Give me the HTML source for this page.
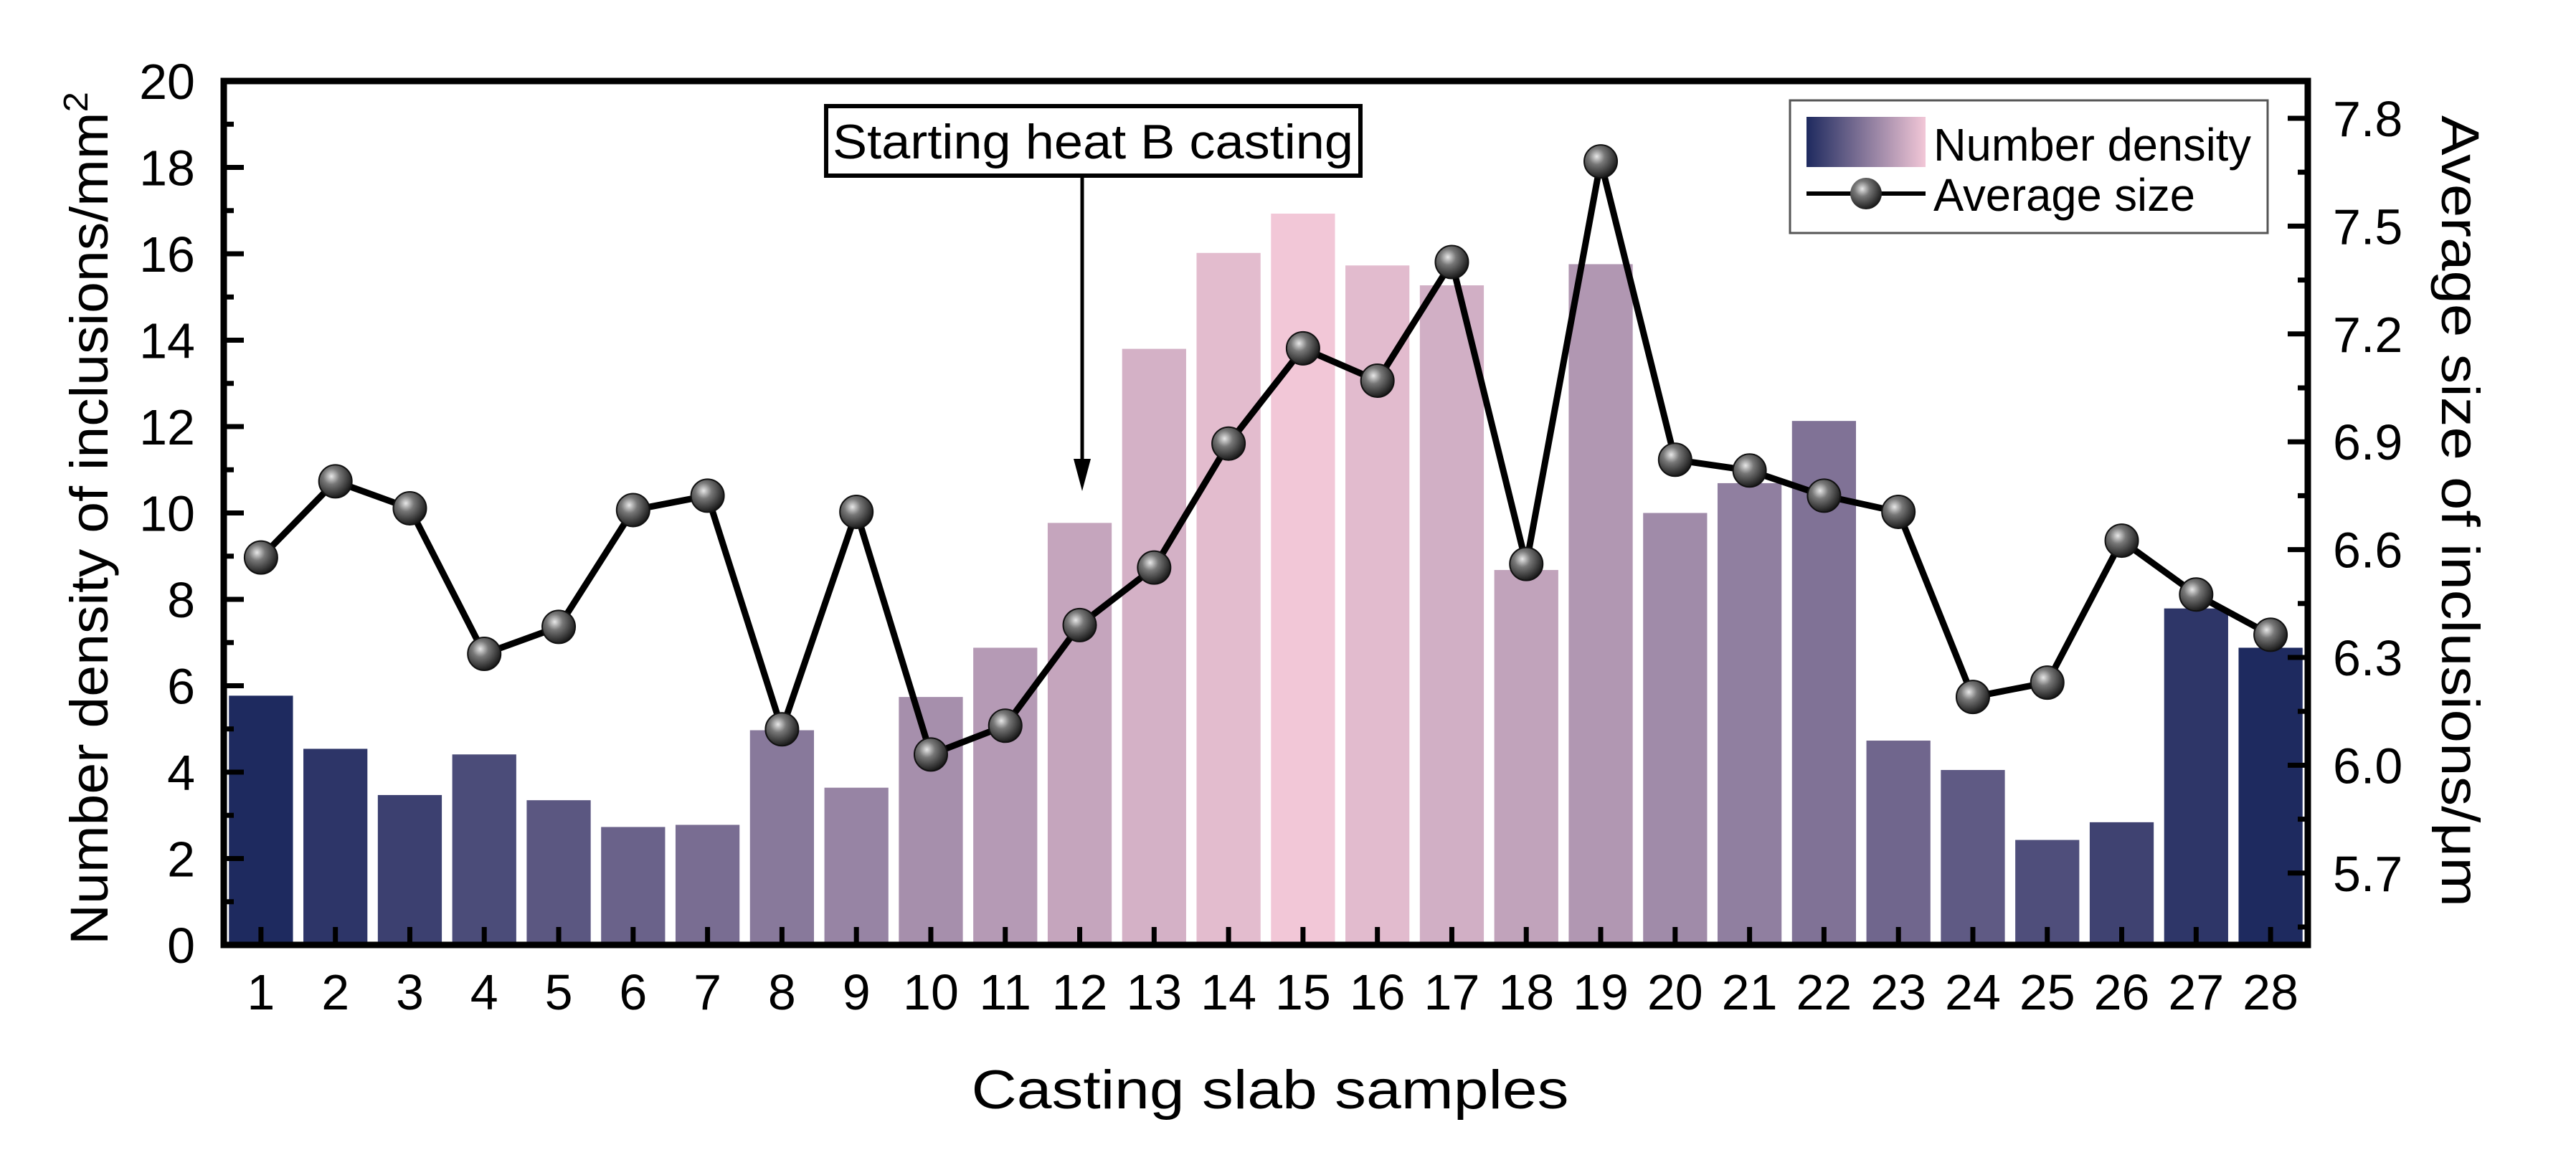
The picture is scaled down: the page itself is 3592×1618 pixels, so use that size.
<!DOCTYPE html>
<html><head><meta charset="utf-8"><style>
html,body{margin:0;padding:0;background:#fff}
svg{display:block}
text{font-family:"Liberation Sans",Arial,sans-serif;fill:#000}
</style></head><body>
<svg id="chart" width="3592" height="1618" viewBox="0 0 3592 1618" xmlns="http://www.w3.org/2000/svg">
<defs>
<radialGradient id="ball" cx="0.38" cy="0.35" r="0.7">
<stop offset="0" stop-color="#e8e8e8"/><stop offset="0.35" stop-color="#777"/><stop offset="1" stop-color="#111"/>
</radialGradient>
<linearGradient id="legGrad" x1="0" x2="1" y1="0" y2="0">
<stop offset="0" stop-color="#1e2a5f"/><stop offset="1" stop-color="#f2c7d7"/>
</linearGradient>
</defs>
<g id="bars"></g>
<g id="line"></g>
<g id="axes"></g>
<g>
<rect x="1152" y="148" width="745" height="97" fill="#fff" stroke="#000" stroke-width="6"/>
<text x="1524" y="221" font-size="68" text-anchor="middle" textLength="726" lengthAdjust="spacingAndGlyphs">Starting heat B casting</text>
<line x1="1509" y1="245" x2="1509" y2="650" stroke="#000" stroke-width="5"/>
<polygon points="1497,640 1521,640 1509,685" fill="#000"/>
</g>
<g>
<rect x="2496" y="140" width="666" height="185" fill="#fff" stroke="#555" stroke-width="3"/>
<rect x="2519" y="163" width="166" height="70" fill="url(#legGrad)"/>
<text x="2696" y="224" font-size="64" textLength="443" lengthAdjust="spacingAndGlyphs">Number density</text>
<line x1="2519" y1="270" x2="2685" y2="270" stroke="#000" stroke-width="6"/>
<circle cx="2602" cy="270" r="22" fill="url(#ball)"/>
<text x="2696" y="294" font-size="64" textLength="365" lengthAdjust="spacingAndGlyphs">Average size</text>
</g>
<text transform="translate(150,723) rotate(-90)" font-size="74" text-anchor="middle" textLength="1190" lengthAdjust="spacingAndGlyphs">Number density of inclusions/mm<tspan dy="-28" font-size="48">2</tspan></text>
<text transform="translate(3405,713) rotate(90)" font-size="74" text-anchor="middle" textLength="1104" lengthAdjust="spacingAndGlyphs">Average size of inclusions/μm</text>
<text x="1771" y="1546" font-size="76" text-anchor="middle" textLength="833" lengthAdjust="spacingAndGlyphs">Casting slab samples</text>
</svg>
<script>
const categories = [1,2,3,4,5,6,7,8,9,10,11,12,13,14,15,16,17,18,19,20,21,22,23,24,25,26,27,28];
const densityValues = [5.77,4.54,3.47,4.41,3.35,2.73,2.78,4.97,3.64,5.74,6.88,9.77,13.8,16.02,16.93,15.73,15.27,8.68,15.76,10.0,10.69,12.13,4.73,4.05,2.43,2.84,7.79,6.88];
const sizeValues = [6.578,6.79,6.715,6.31,6.385,6.71,6.75,6.10,6.705,6.03,6.11,6.39,6.55,6.895,7.16,7.07,7.40,6.56,7.68,6.85,6.82,6.75,6.705,6.19,6.23,6.625,6.475,6.363];
const leftTicks = [0,2,4,6,8,10,12,14,16,18,20];
const rightTicks = [5.7,6.0,6.3,6.6,6.9,7.2,7.5,7.8];

const NS = "http://www.w3.org/2000/svg";
const L = 312, R = 3218, T = 113, B = 1318;
const xScale = c => L + (c - 0.5) / 28 * (R - L);
const yLeft = v => B - v * (B - T) / 20;
const yRight = v => 165 + (7.8 - v) / 0.3 * 150.4;
function mk(tag, attrs, parent) {
  const e = document.createElementNS(NS, tag);
  for (const k in attrs) e.setAttribute(k, attrs[k]);
  parent.appendChild(e);
  return e;
}
function mix(t) {
  const a = [30,42,95], b = [242,199,215];
  return "rgb(" + a.map((v, i) => Math.round(v + (b[i] - v) * t)).join(",") + ")";
}
const barsG = document.getElementById("bars");
const bw = (R - L) / 28 * 0.86;
categories.forEach((c, i) => {
  const t = c <= 15 ? (c - 1) / 14 : (28 - c) / 13;
  const y = yLeft(densityValues[i]);
  const r = mk("rect", {x: xScale(c) - bw / 2, y: y, width: bw, height: B - y, fill: mix(t)}, barsG);
  
  
});
const lineG = document.getElementById("line");
const pts = categories.map((c, i) => xScale(c) + "," + yRight(sizeValues[i])).join(" ");
const pl = mk("polyline", {points: pts, fill: "none", stroke: "#000", "stroke-width": 9, "stroke-linejoin": "round"}, lineG);


categories.forEach((c, i) => {
  const m = mk("circle", {cx: xScale(c), cy: yRight(sizeValues[i]), r: 23, fill: "url(#ball)", stroke: "#111", "stroke-width": 2}, lineG);
  
  
});
const ax = document.getElementById("axes");
const frame = mk("rect", {x: L, y: T, width: R - L, height: B - T, fill: "none", stroke: "#000", "stroke-width": 9}, ax);


leftTicks.forEach((v, i) => {
  const y = yLeft(v);
  mk("line", {x1: L, x2: L + 28, y1: y, y2: y, stroke: "#000", "stroke-width": 7}, ax);
  if (i < leftTicks.length - 1) { const ym = yLeft(v + 1); mk("line", {x1: L, x2: L + 14, y1: ym, y2: ym, stroke: "#000", "stroke-width": 7}, ax); }
  const tx = mk("text", {x: 272, y: y + 25, "font-size": 70, "text-anchor": "end"}, ax);
  tx.textContent = v;
  
  
});
rightTicks.forEach((v, i) => {
  const y = yRight(v);
  mk("line", {x1: R, x2: R - 28, y1: y, y2: y, stroke: "#000", "stroke-width": 7}, ax);
  const ym = yRight(v - 0.15);
  if (ym < B) mk("line", {x1: R, x2: R - 14, y1: ym, y2: ym, stroke: "#000", "stroke-width": 7}, ax);
  const tx = mk("text", {x: 3253, y: y + 25, "font-size": 70}, ax);
  tx.textContent = v.toFixed(1);
  
  
});
categories.forEach(c => {
  const x = xScale(c);
  mk("line", {x1: x, x2: x, y1: B, y2: B - 25, stroke: "#000", "stroke-width": 7}, ax);
  const tx = mk("text", {x: x, y: 1408, "font-size": 70, "text-anchor": "middle"}, ax);
  tx.textContent = c;
  
  
});
</script>
</body></html>
